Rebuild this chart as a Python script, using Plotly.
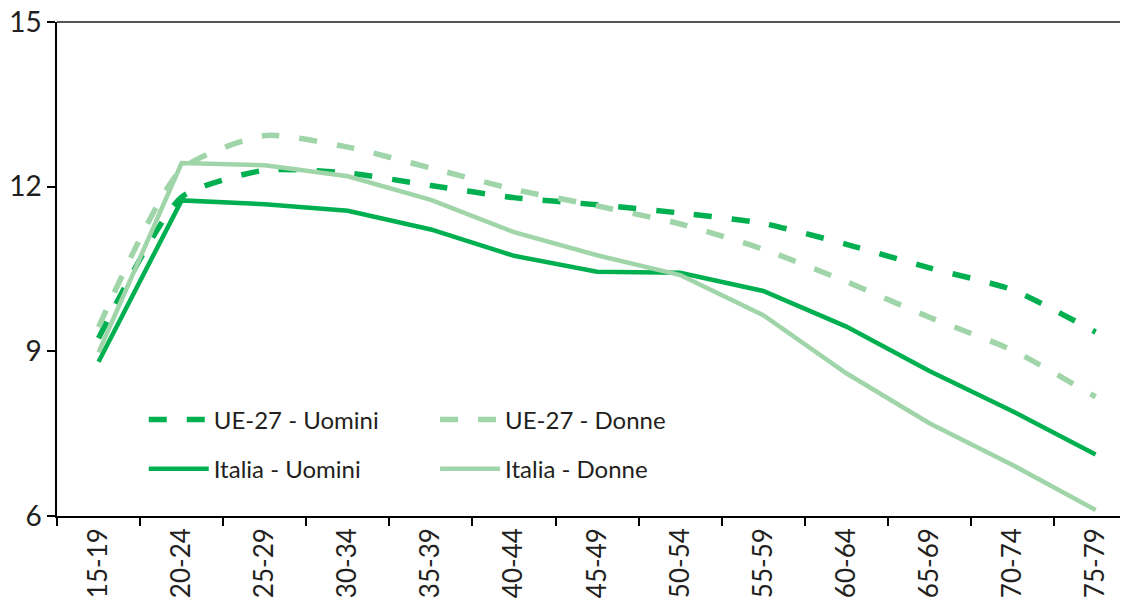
import plotly.graph_objects as go

categories = ["15-19", "20-24", "25-29", "30-34", "35-39", "40-44", "45-49",
              "50-54", "55-59", "60-64", "65-69", "70-74", "75-79"]
ue_uomini = [9.24, 11.81, 12.30, 12.25, 12.02, 11.80, 11.67, 11.52, 11.33, 10.95, 10.52, 10.12, 9.35]
ue_donne = [9.44, 12.32, 12.93, 12.72, 12.34, 11.95, 11.65, 11.32, 10.86, 10.27, 9.62, 9.02, 8.17]
it_uomini = [8.81, 11.75, 11.68, 11.56, 11.22, 10.74, 10.45, 10.43, 10.10, 9.45, 8.64, 7.91, 7.12]
it_donne = [8.98, 12.43, 12.39, 12.19, 11.76, 11.17, 10.75, 10.39, 9.66, 8.60, 7.69, 6.93, 6.11]

DARK = "#00B050"
LIGHT = "#9FD5A9"
FONT = "Lato"
TXT = "#231F20"

fig = go.Figure()
fig.add_trace(go.Scatter(x=categories, y=ue_uomini, name="UE-27 - Uomini", mode="lines",
                         line=dict(color=DARK, width=5.5, dash="18px,20px", shape="spline", smoothing=0.6),
                         legend="legend", legendgroup="a"))
fig.add_trace(go.Scatter(x=categories, y=ue_donne, name="UE-27 - Donne", mode="lines",
                         line=dict(color=LIGHT, width=5.5, dash="18px,20px", shape="spline", smoothing=0.6),
                         legend="legend2", legendgroup="c"))
fig.add_trace(go.Scatter(x=categories, y=it_uomini, name="Italia - Uomini", mode="lines",
                         line=dict(color=DARK, width=4.5),
                         legend="legend", legendgroup="b"))
fig.add_trace(go.Scatter(x=categories, y=it_donne, name="Italia - Donne", mode="lines",
                         line=dict(color=LIGHT, width=4.5),
                         legend="legend2", legendgroup="d"))

leg_common = dict(orientation="v", xanchor="left", yanchor="top", bgcolor="rgba(0,0,0,0)",
                  font=dict(family=FONT, size=24, color=TXT), itemwidth=60,
                  tracegroupgap=15, traceorder="grouped", xref="paper", yref="paper")

fig.update_layout(
    width=1120, height=592,
    margin=dict(l=49, r=0, t=14, b=84, autoexpand=False),
    plot_bgcolor="white", paper_bgcolor="white",
    font=dict(family=FONT, color=TXT),
    showlegend=True,
    legend=dict(x=0.081, y=0.24, **leg_common),
    legend2=dict(x=0.353, y=0.24, **leg_common),
    xaxis=dict(type="category", range=[-0.5, 12.39], showline=True, linecolor="#000000", linewidth=1.5,
               ticks="outside", tickson="boundaries", ticklen=8, tickcolor="#000000", tickwidth=1.5,
               tickangle=-90, tickfont=dict(family=FONT, size=26, color=TXT), showgrid=False,
               zeroline=False, automargin=False),
    yaxis=dict(range=[6, 15], tickvals=[6, 9, 12, 15], showline=True, linecolor="#000000", linewidth=1.5,
               ticks="outside", ticklen=8, tickcolor="#000000", tickwidth=1.5,
               tickfont=dict(family=FONT, size=28, color=TXT), showgrid=False, zeroline=False,
               automargin=False, ticklabeloverflow="allow"),
    shapes=[dict(type="line", xref="paper", yref="paper", x0=0, x1=1, y0=1, y1=1,
                 line=dict(color="#555555", width=2))],
)

fig.write_html("out.html")
